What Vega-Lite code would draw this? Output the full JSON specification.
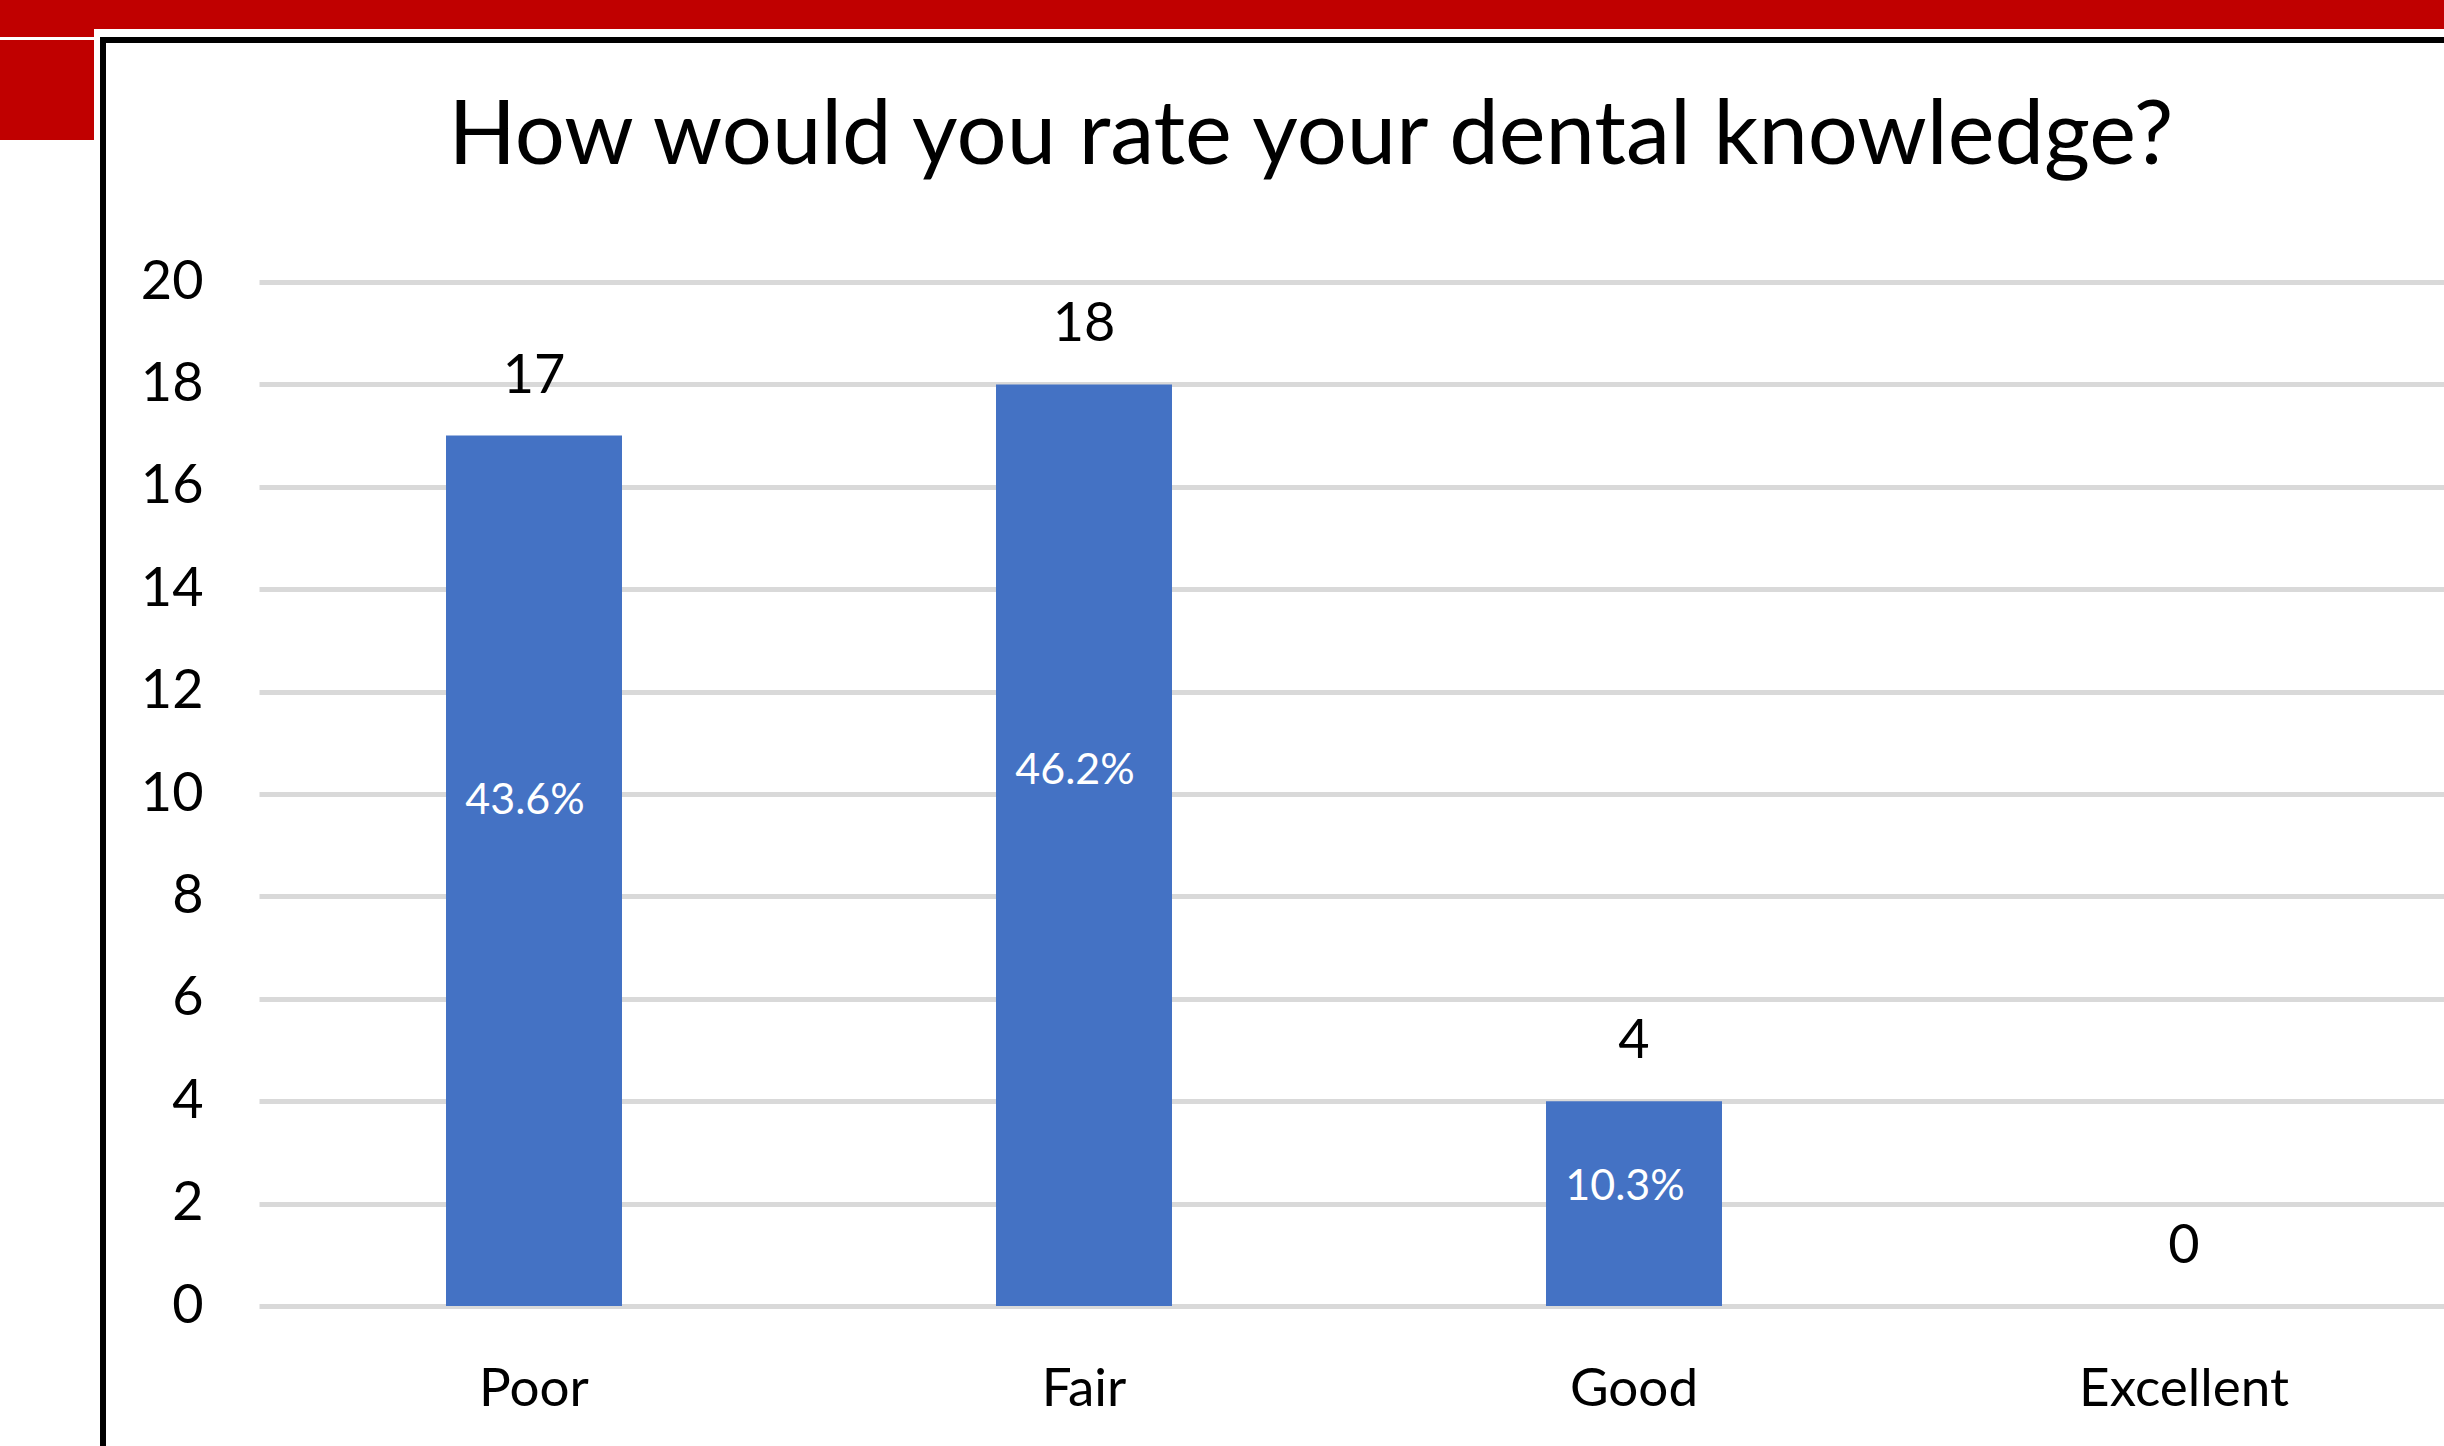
{
  "$schema": "https://vega.github.io/schema/vega-lite/v6.json",
  "padding": 0,
  "background": "white",
  "config": {"font": "Lato", "view": {"stroke": null}},
  "spacing": 0,
  "vconcat": [
    {
      "spacing": 0,
      "hconcat": [
        {
          "data": {"values": []},
          "mark": "rect",
          "width": 94,
          "height": 37,
          "view": {"fill": "#C00000", "stroke": null}
        },
        {
          "data": {"values": []},
          "mark": "rect",
          "width": 2400,
          "height": 29,
          "view": {"fill": "#C00000", "stroke": null}
        }
      ]
    },
    {
      "spacing": 6,
      "hconcat": [
        {
          "data": {"values": []},
          "mark": "rect",
          "width": 94,
          "height": 100,
          "view": {"fill": "#C00000", "stroke": null}
        },
        {
          "data": {
            "values": [
              {"rating": "Poor", "count": 17, "pct": 0.436},
              {"rating": "Fair", "count": 18, "pct": 0.462},
              {"rating": "Good", "count": 4, "pct": 0.103},
              {"rating": "Excellent", "count": 0, "pct": 0}
            ]
          },
          "width": 2400,
          "height": 1440,
          "view": {"fill": "white", "stroke": "black", "strokeWidth": 6},
          "title": {
            "text": "How would you rate your dental knowledge?",
            "font": "Lato",
            "fontSize": 88.5,
            "fontWeight": "normal",
            "color": "black",
            "anchor": "middle",
            "baseline": "alphabetic",
            "offset": -212,
            "dx": 8
          },
          "encoding": {
            "x": {
              "field": "rating",
              "type": "nominal",
              "sort": null,
              "scale": {"range": [156, 2356], "paddingInner": 0.68, "paddingOuter": 0.34},
              "axis": {
                "title": null,
                "orient": "bottom",
                "offset": -75,
                "domain": false,
                "ticks": false,
                "tickSize": 0,
                "labelPadding": 0,
                "labelBaseline": "alphabetic",
                "labelAngle": 0,
                "labelLimit": 0,
                "labelFont": "Lato",
                "labelFontSize": 53,
                "labelColor": "black"
              }
            }
          },
          "layer": [
            {
              "mark": {"type": "bar", "color": "#4472C4"},
              "encoding": {
                "y": {
                  "field": "count",
                  "type": "quantitative",
                  "scale": {"domain": [0, 20], "range": [1266, 242], "nice": false},
                  "axis": {
                    "title": null,
                    "values": [0, 2, 4, 6, 8, 10, 12, 14, 16, 18, 20],
                    "format": "d",
                    "offset": -100,
                    "labelPadding": 0,
                    "ticks": false,
                    "tickSize": 0,
                    "domain": false,
                    "grid": true,
                    "gridColor": "#D9D9D9",
                    "gridWidth": 5,
                    "labelFont": "Lato",
                    "labelFontSize": 54,
                    "labelColor": "black"
                  }
                }
              }
            },
            {
              "mark": {"type": "text", "baseline": "alphabetic", "dy": -43, "fontSize": 54, "color": "black", "font": "Lato"},
              "encoding": {
                "y": {"field": "count", "type": "quantitative"},
                "text": {"field": "count", "type": "quantitative"}
              }
            },
            {
              "transform": [{"filter": "datum.count > 0"}],
              "mark": {"type": "text", "baseline": "middle", "dx": -9, "fontSize": 43, "color": "white", "font": "Lato"},
              "encoding": {
                "y": {"field": "count", "type": "quantitative", "stack": "zero", "bandPosition": 0.58},
                "text": {"field": "pct", "type": "quantitative", "format": ".1%"}
              }
            }
          ]
        }
      ]
    }
  ]
}
